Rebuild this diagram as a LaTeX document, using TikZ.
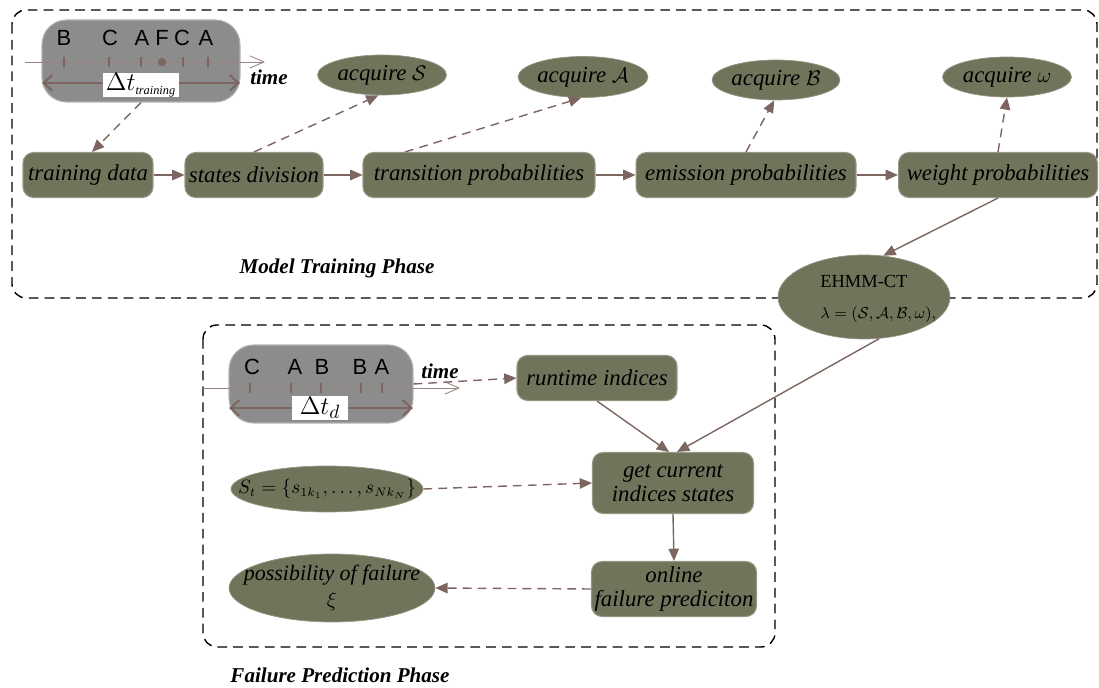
\documentclass[tikz,border=0pt]{standalone}
\usepackage{fontspec}
\setmainfont{Liberation Serif}
\setsansfont{Liberation Sans}
\usepackage{amsmath,amssymb}
\usetikzlibrary{shapes.geometric,arrows.meta,calc}

\definecolor{olivefill}{RGB}{112,116,90}
\definecolor{oliveedge}{RGB}{150,150,132}
\definecolor{linkc}{RGB}{125,102,96}
\definecolor{windowc}{RGB}{140,140,140}

\tikzset{
  stepbox/.style={draw=oliveedge, fill=olivefill, rounded corners=6pt, line width=0.6pt,
    inner sep=1pt, minimum height=0.9cm, align=center,
    font=\fontsize{13}{14}\selectfont\itshape},
  result/.style={ellipse, draw=oliveedge, fill=olivefill, inner xsep=-12pt, inner ysep=-6pt,
    align=center, font=\fontsize{13}{15}\selectfont\itshape},
  window/.style={draw=gray!60, fill=windowc, rounded corners=14pt, line width=0.6pt},
  flow/.style={draw=linkc, line width=0.8pt, -{Triangle[length=7pt,width=6pt]}},
  hint/.style={flow, dash pattern=on 5pt off 3.5pt},
  phase/.style={draw, dash pattern=on 5.5pt off 3.5pt, line width=0.8pt, rounded corners=8pt},
  tlabel/.style={font=\sffamily\fontsize{12.5}{14}\selectfont, inner sep=0pt},
  tick/.style={draw=linkc, line width=0.6pt},
  span/.style={draw=linkc, line width=1.2pt,
    {Straight Barb[length=5pt,width=9pt]}-{Straight Barb[length=5pt,width=9pt]}},
  axis/.style={draw=linkc!80, line width=0.5pt, -{Straight Barb[length=8pt,width=7pt]}},
  timetag/.style={font=\fontsize{12}{14}\selectfont\bfseries\itshape, inner sep=0pt},
  phasetag/.style={font=\fontsize{12}{14}\selectfont\bfseries\itshape},
  dtbox/.style={fill=white, inner sep=0pt, minimum height=0.48cm},
}

\begin{document}
\begin{tikzpicture}[x=0.02cm,y=-0.02cm]
\useasboundingbox (0,0) rectangle (1099,688);

% phase frames
\draw[phase] (12,10) rectangle (1097,298);
\draw[phase] (203,325) rectangle (775,647);
\node[phasetag] (trainphase) at (337,268) {Model Training Phase};
\node[phasetag] (predphase) at (340,675) {Failure Prediction Phase};

% training window
\node[window, minimum width=3.96cm, minimum height=1.64cm] (win1) at (141,61) {};
\draw[axis] (25,62) -- (265,62);
\foreach \x in {64,109,141,183,208}
  \draw[tick] (\x,57) -- (\x,67);
\fill[linkc] (162,62) circle (2.4pt);
\foreach \x/\l in {64/B,110/C,142/A,162/F,182/C,206/A}
  \node[tlabel] (a\x) at (\x,38) {\l};
\draw[span] (42,83) -- (240,83);
\node[dtbox, minimum width=1.54cm] (dt1) at (141,85)
  {\fontsize{14}{14}\selectfont$\Delta t_{\text{\fontsize{7}{7}\selectfont\itshape training}}$};
\node[timetag] (time1) at (269,77) {time};

% training chain
\node[stepbox, minimum width=2.6cm]  (train)  at (88,175)  {training data};
\node[stepbox, minimum width=2.76cm] (divide) at (254,175) {states division};
\node[stepbox, minimum width=4.64cm] (trans)  at (479,175) {transition probabilities};
\node[stepbox, minimum width=4.4cm]  (emit)   at (746,175) {emission probabilities};
\node[stepbox, minimum width=3.98cm] (weight) at (998,175) {weight probabilities};

\node[result, minimum width=2.58cm, minimum height=0.8cm]  (acqS) at (382,75) {acquire $\mathcal{S}$};
\node[result, minimum width=2.6cm, minimum height=0.82cm]  (acqA) at (583,77) {acquire $\mathcal{A}$};
\node[result, minimum width=2.56cm, minimum height=0.8cm]  (acqB) at (776,80) {acquire $\mathcal{B}$};
\node[result, minimum width=2.58cm, minimum height=0.8cm]  (acqW) at (1007,77) {acquire $\omega$};

\draw[flow] (train) -- (divide);
\draw[flow] (divide) -- (trans);
\draw[flow] (trans) -- (emit);
\draw[flow] (emit) -- (weight);

\draw[hint] (win1.south) -- ($(train.north)+(4,0)$);
\draw[hint] (divide.north) -- (acqS.260);
\draw[hint] ($(trans.north)+(-74,0)$) -- (acqA.265);
\draw[hint] (emit.north) -- (acqB.265);
\draw[hint] (weight.north) -- (acqW.270);

% model
\node[result, minimum width=3.44cm, minimum height=1.68cm] (ehmm) at (864,297) {};
\node[align=left, anchor=west, inner sep=0pt, font=\fontsize{10.5}{18}\selectfont]
  (ehmmtxt) at (820,299)
  {EHMM-CT\\ {\fontsize{9.5}{11}\selectfont$\lambda=(\mathcal{S},\mathcal{A},\mathcal{B},\omega),$}};
\draw[flow] (weight.south) -- (ehmm.65);

% prediction window
\node[window, minimum width=3.68cm, minimum height=1.56cm] (win2) at (321,384) {};
\draw[axis] (203,388) -- (460,388);
\foreach \x in {250,291,321,361,382}
  \draw[tick] (\x,383) -- (\x,393);
\foreach \x/\l in {252/C,295/A,322/B,360/B,382/A}
  \node[tlabel] (b\x) at (\x,367) {\l};
\draw[span] (229,408) -- (413,408);
\node[dtbox, minimum width=1.14cm] (dt2) at (320,408)
  {\fontsize{15}{15}\selectfont$\Delta t_{d}$};
\node[timetag] (time2) at (440,371) {time};

% prediction chain
\node[stepbox, minimum width=3.2cm]  (run)    at (597,378) {runtime indices};
\node[stepbox, minimum width=3.22cm, minimum height=1.22cm] (cur) at (673,483)
  {get current\\ indices states};
\node[stepbox, minimum width=3.3cm, minimum height=1.1cm]   (online) at (674,589)
  {online\\ failure prediciton};
\node[result, minimum width=3.56cm, minimum height=0.92cm] (st) at (327,489)
  {\fontsize{10.5}{12}\selectfont$S_t=\{s_{1k_1},\dots,s_{Nk_N}\}$};
\node[result, minimum width=4.12cm, minimum height=1.36cm,
  font=\fontsize{12.5}{15}\selectfont\itshape] (poss) at (332,588)
  {possibility of failure\\ $\xi$};

\draw[hint] (win2.east) -- (run.west);
\draw[flow] (run.south) -- ($(cur.north)+(-4,0)$);
\draw[flow] (ehmm.-70) -- ($(cur.north)+(4,0)$);
\draw[hint] (st.east) -- (cur.west);
\draw[flow] (cur.south) -- (online.north);
\draw[hint] (online.west) -- (poss.east);
\end{tikzpicture}
\end{document}
